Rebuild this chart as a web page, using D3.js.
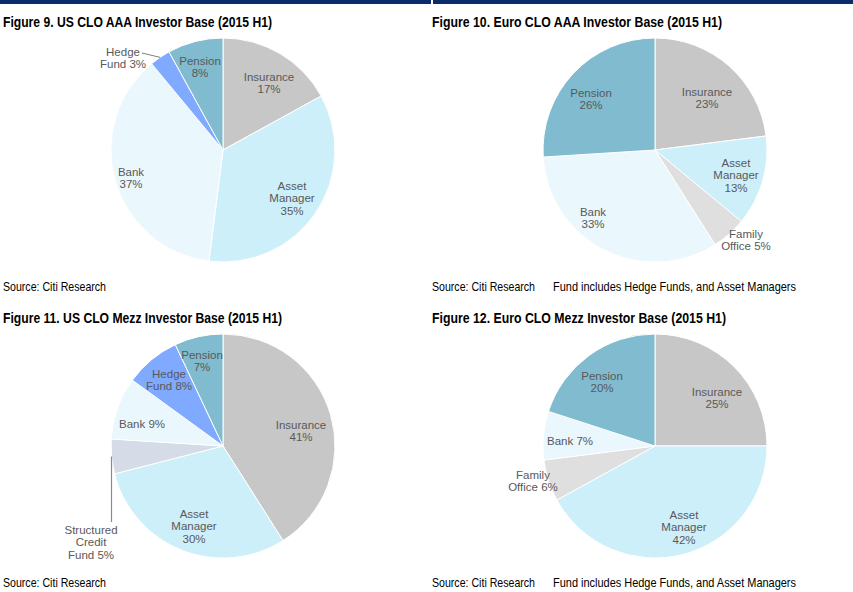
<!DOCTYPE html>
<html>
<head>
<meta charset="utf-8">
<script src="https://cdn.jsdelivr.net/npm/d3@7"></script>
<style>
  body { margin: 0; background: #fff; }
  svg { display: block; }
</style>
</head>
<body>
<div id="chart"></div>
<script>
// Data: categories and shares (%), clockwise from 12 o'clock
var usAaaCats = ["Insurance", "Asset Manager", "Bank", "Hedge Fund", "Pension"];
var usAaaVals = [17, 35, 37, 3, 8];

var euAaaCats = ["Insurance", "Asset Manager", "Family Office", "Bank", "Pension"];
var euAaaVals = [23, 13, 5, 33, 26];

var usMezzCats = ["Insurance", "Asset Manager", "Structured Credit Fund", "Bank", "Hedge Fund", "Pension"];
var usMezzVals = [41, 30, 5, 9, 8, 7];

var euMezzCats = ["Insurance", "Asset Manager", "Family Office", "Bank", "Pension"];
var euMezzVals = [25, 42, 6, 7, 20];

var titles = [
    "Figure 9. US CLO AAA Investor Base (2015 H1)",
    "Figure 10. Euro CLO AAA Investor Base (2015 H1)",
    "Figure 11. US CLO Mezz Investor Base (2015 H1)",
    "Figure 12. Euro CLO Mezz Investor Base (2015 H1)"
];
var sourceText = "Source: Citi Research";
var noteText = "Fund includes Hedge Funds, and Asset Managers";

// Slice colours per investor type
var color = d3.scaleOrdinal()
    .domain(["Insurance", "Asset Manager", "Bank", "Hedge Fund", "Pension", "Family Office", "Structured Credit Fund"])
    .range(["#c7c7c7", "#cdeff9", "#eaf7fc", "#7faaff", "#80bbcf", "#dfdfdf", "#d5dce7"]);

// Label layout (text block centre, offset from pie centre) - Excel "best fit" placement
var layout9 = [
    { fmt: "Insurance|{v}%", dx: 46, dy: -67 },
    { fmt: "Asset|Manager|{v}%", dx: 69, dy: 48 },
    { fmt: "Bank|{v}%", dx: -92, dy: 28 },
    { fmt: "Hedge|Fund {v}%", dx: -100, dy: -92, leader: [-81, -97] },
    { fmt: "Pension|{v}%", dx: -23, dy: -83 }
];
var layout10 = [
    { fmt: "Insurance|{v}%", dx: 52, dy: -52 },
    { fmt: "Asset|Manager|{v}%", dx: 81, dy: 25 },
    { fmt: "Family|Office {v}%", dx: 91, dy: 90 },
    { fmt: "Bank|{v}%", dx: -62, dy: 68 },
    { fmt: "Pension|{v}%", dx: -64, dy: -51 }
];
var layout11 = [
    { fmt: "Insurance|{v}%", dx: 78, dy: -15 },
    { fmt: "Asset|Manager|{v}%", dx: -29, dy: 80 },
    { fmt: "Structured|Credit|Fund {v}%", dx: -132, dy: 96, vleader: 76 },
    { fmt: "Bank {v}%", dx: -81, dy: -22 },
    { fmt: "Hedge|Fund {v}%", dx: -54, dy: -66 },
    { fmt: "Pension|{v}%", dx: -21, dy: -85 }
];
var layout12 = [
    { fmt: "Insurance|{v}%", dx: 62, dy: -48 },
    { fmt: "Asset|Manager|{v}%", dx: 29, dy: 81 },
    { fmt: "Family|Office {v}%", dx: -122, dy: 35 },
    { fmt: "Bank {v}%", dx: -85, dy: -5 },
    { fmt: "Pension|{v}%", dx: -53, dy: -64 }
];

var width = 853, height = 592;
var radius = 112;

var svg = d3.select("#chart").append("svg")
    .attr("width", width)
    .attr("height", height);

// Navy header bar
svg.append("rect").attr("x", 0).attr("y", 0).attr("width", 431).attr("height", 4).attr("fill", "#0b2c6c");
svg.append("rect").attr("x", 433).attr("y", 0).attr("width", 420).attr("height", 4).attr("fill", "#0b2c6c");

var panels = [
    { cats: usAaaCats, vals: usAaaVals, lay: layout9, x: 0, y: 0, note: false, title: titles[0], tw: 269 },
    { cats: euAaaCats, vals: euAaaVals, lay: layout10, x: 429, y: 0, note: true, title: titles[1], tw: 290 },
    { cats: usMezzCats, vals: usMezzVals, lay: layout11, x: 0, y: 296, note: false, title: titles[2], tw: 279 },
    { cats: euMezzCats, vals: euMezzVals, lay: layout12, x: 429, y: 296, note: true, title: titles[3], tw: 294 }
];

var pie = d3.pie().sort(null).value(function (d) { return d; });
var arc = d3.arc().innerRadius(0).outerRadius(radius);
var edge = d3.arc().innerRadius(radius).outerRadius(radius);

var narrow = "'Liberation Sans Narrow', 'Arial Narrow', 'Liberation Sans', Arial, sans-serif";

panels.forEach(function (p) {
    var g = svg.append("g").attr("transform", "translate(" + p.x + "," + p.y + ")");

    // Title
    g.append("text")
        .attr("x", 3)
        .attr("y", 26.5)
        .attr("textLength", p.tw)
        .attr("lengthAdjust", "spacingAndGlyphs")
        .style("font-family", narrow)
        .style("font-weight", "bold")
        .style("font-size", "15px")
        .style("fill", "#000")
        .text(p.title);

    // Source line
    g.append("text")
        .attr("x", 3)
        .attr("y", 290.5)
        .attr("textLength", 103)
        .attr("lengthAdjust", "spacingAndGlyphs")
        .style("font-family", narrow)
        .style("font-size", "13px")
        .style("fill", "#000")
        .text(sourceText);

    if (p.note) {
        g.append("text")
            .attr("x", 124)
            .attr("y", 290.5)
            .attr("textLength", 243)
            .attr("lengthAdjust", "spacingAndGlyphs")
            .style("font-family", narrow)
            .style("font-size", "13px")
            .style("fill", "#000")
            .text(noteText);
    }

    var pieG = g.append("g").attr("transform", "translate(" + (p.x === 0 ? 223 : 226) + ",150)");
    var arcs = pie(p.vals);

    pieG.selectAll("path")
        .data(arcs)
        .enter().append("path")
        .attr("d", arc)
        .attr("fill", function (d, i) { return color(p.cats[i]); })
        .attr("stroke", "#fff")
        .attr("stroke-width", 1);

    // Leader lines
    arcs.forEach(function (d, i) {
        var l = p.lay[i];
        var end = edge.centroid(d);
        if (l.leader) {
            pieG.append("line")
                .attr("x1", l.leader[0]).attr("y1", l.leader[1])
                .attr("x2", end[0]).attr("y2", end[1])
                .attr("stroke", "#7f7f7f").attr("stroke-width", 1);
        }
        if (l.vleader !== undefined) {
            pieG.append("line")
                .attr("x1", end[0]).attr("y1", end[1])
                .attr("x2", end[0]).attr("y2", l.vleader)
                .attr("stroke", "#8c8c8c").attr("stroke-width", 1.2);
        }
    });

    // Data labels
    var lh = 12.5;
    arcs.forEach(function (d, i) {
        var l = p.lay[i];
        var lines = l.fmt.replace("{v}", p.vals[i]).split("|");
        var t = pieG.append("text")
            .attr("text-anchor", "middle")
            .style("font-family", "'Liberation Sans', Arial, sans-serif")
            .style("font-size", "11.5px")
            .style("fill", "#595959");
        lines.forEach(function (s, k) {
            t.append("tspan")
                .attr("x", l.dx)
                .attr("y", l.dy - (lines.length - 1) * lh / 2 + 4 + k * lh)
                .text(s);
        });
    });
});
</script>
</body>
</html>
